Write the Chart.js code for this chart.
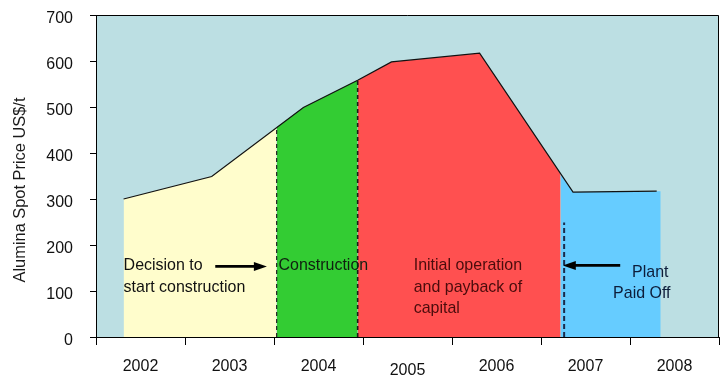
<!DOCTYPE html>
<html><head><meta charset="utf-8">
<script src="https://cdn.jsdelivr.net/npm/chart.js@4/dist/chart.umd.min.js"></script>
<style>html,body{margin:0;padding:0;background:#fff;}canvas{display:block;}</style>
</head><body>
<canvas id="c" width="722" height="392"></canvas>
<script>
// ---- data ----
const yearLabels = ['2002', '2003', '2004', '2005', '2006', '2007', '2008'];
const yTitle = 'Alumina Spot Price US$/t';

// spot price line (x in fractional years)
const priceYears  = [2001.81, 2002.80, 2003.83, 2004.44, 2004.82, 2005.81, 2006.86, 2007.80];
const priceValues = [300, 349, 499, 558, 598, 617, 315, 317];

// phase areas
const decisionYears      = [2001.81, 2002.80, 2003.53];
const decisionValues     = [300, 349, 456];
const constructionYears  = [2003.53, 2003.83, 2004.44];
const constructionValues = [456, 499, 558];
const paybackYears       = [2004.44, 2004.82, 2005.81, 2006.72];
const paybackValues      = [558, 598, 617, 355];
const paidOffYears       = [2006.72, 2006.86, 2007.80, 2007.845];
const paidOffValues      = [355, 315, 317, 317];

// dashed phase markers
const markerYears = [2003.53, 2004.44, 2006.76];
const markerTops  = [450, 558, 249];

// phase notes text
const decisionNote     = ['Decision to', 'start construction'];
const constructionNote = ['Construction'];
const paybackNote      = ['Initial operation', 'and payback of', 'capital'];
const paidOffNote      = ['Plant', 'Paid Off'];

const FONT = "'Liberation Sans', Arial, sans-serif";
const pts = (xs, ys) => xs.map((x, i) => ({x: x, y: ys[i]}));

function areaSet(xs, ys, color) {
  return {type: 'line', data: pts(xs, ys), fill: 'origin', backgroundColor: color,
          borderWidth: 0, borderColor: 'rgba(0,0,0,0)', pointRadius: 0, tension: 0, xAxisID: 'x', yAxisID: 'y'};
}
function markerSet(i, color, width, dash) {
  return {type: 'line', data: [{x: markerYears[i], y: 0}, {x: markerYears[i], y: markerTops[i]}],
          borderColor: color, borderWidth: width, borderDash: dash, pointRadius: 0, fill: false,
          xAxisID: 'x', yAxisID: 'y'};
}

const datasets = [
  markerSet(0, '#222222', 1.2, [4, 3]),
  markerSet(1, '#1a1a1a', 1.6, [4, 3]),
  markerSet(2, '#1b2a4a', 2, [5, 3]),
  {type: 'line', data: pts(priceYears, priceValues), borderColor: '#111', borderWidth: 1.2,
   pointRadius: 0, fill: false, tension: 0, xAxisID: 'x', yAxisID: 'y'},
  areaSet(decisionYears, decisionValues, '#FFFDCC'),
  areaSet(constructionYears, constructionValues, '#33CC33'),
  areaSet(paybackYears, paybackValues, '#FF5050'),
  areaSet(paidOffYears, paidOffValues, '#66CCFF')
];

const bgPlugin = {
  id: 'plotBg',
  beforeDraw(chart) {
    const {ctx, chartArea: a} = chart;
    ctx.save();
    ctx.fillStyle = '#BCDFE3';
    ctx.fillRect(a.left, a.top, a.right - a.left, a.bottom - a.top);
    ctx.restore();
  },
  afterDatasetsDraw(chart) {
    const {ctx, chartArea: a} = chart;
    ctx.save();
    ctx.strokeStyle = '#000';
    ctx.lineWidth = 1;
    ctx.beginPath();
    ctx.moveTo(a.left, a.top + 0.5);
    ctx.lineTo(a.right - 0.5, a.top + 0.5);
    ctx.lineTo(a.right - 0.5, a.bottom);
    ctx.stroke();
    ctx.restore();
  }
};

function arrow(ctx, x1, y, x2) {
  const dir = Math.sign(x2 - x1);
  const head = 13, half = 4.5;
  ctx.beginPath();
  ctx.moveTo(x1, y);
  ctx.lineTo(x2 - dir * head + dir * 1, y);
  ctx.lineWidth = 2.6;
  ctx.strokeStyle = '#000';
  ctx.stroke();
  ctx.beginPath();
  ctx.moveTo(x2, y);
  ctx.lineTo(x2 - dir * head, y - half);
  ctx.lineTo(x2 - dir * head, y + half);
  ctx.closePath();
  ctx.fillStyle = '#000';
  ctx.fill();
}

const notesPlugin = {
  id: 'notes',
  afterDatasetsDraw(chart) {
    const {ctx} = chart;
    const xs = chart.scales.x, ys = chart.scales.y;
    const X = v => xs.getPixelForValue(v), Y = v => ys.getPixelForValue(v);
    ctx.save();
    ctx.font = '17px ' + FONT;
    ctx.textBaseline = 'alphabetic';
    ctx.textAlign = 'left';
    const lh = 21.5, sx = 0.94;
    function lines(arr, x, y, color, offsets) {
      ctx.fillStyle = color;
      arr.forEach((t, i) => {
        ctx.save();
        ctx.translate(X(x) + (offsets ? offsets[i] : 0), Y(y) + i * lh);
        ctx.scale(sx, 1);
        ctx.fillText(t, 0, 0);
        ctx.restore();
      });
    }
    lines(decisionNote, 2001.81, 145, '#111111');
    lines(constructionNote, 2003.55, 146, '#102010');
    lines(paybackNote, 2005.07, 145, '#4a0c0c');
    lines(paidOffNote, 2007.31, 131, '#0d1d3a', [19, 0]);
    arrow(ctx, X(2002.84), Y(153.5), X(2003.42));
    arrow(ctx, X(2007.39), Y(155.7), X(2006.745));
    ctx.restore();
  }
};

const yTitlePlugin = {
  id: 'yTitle',
  afterDraw(chart) {
    const {ctx} = chart;
    ctx.save();
    ctx.translate(25, 190);
    ctx.rotate(-Math.PI / 2);
    ctx.font = '16.4px ' + FONT;
    ctx.fillStyle = '#1a1a1a';
    ctx.textAlign = 'center';
    ctx.textBaseline = 'alphabetic';
    ctx.fillText(yTitle, 0, 0);
    ctx.restore();
  }
};

new Chart(document.getElementById('c'), {
  type: 'line',
  data: {datasets: datasets},
  options: {
    responsive: false,
    animation: false,
    devicePixelRatio: 1,
    layout: {padding: {top: 15, right: 3, left: 0, bottom: 0}},
    plugins: {legend: {display: false}, tooltip: {enabled: false}},
    scales: {
      x: {type: 'linear', min: 2001.5, max: 2008.5, display: false},
      years: {
        type: 'category', axis: 'x', position: 'bottom', labels: yearLabels, offset: true,
        grid: {offset: true, drawOnChartArea: false, drawTicks: true, tickLength: 8, color: '#000', lineWidth: 1},
        border: {display: true, color: '#000', width: 1},
        ticks: {
          color: '#111', autoSkip: false, maxRotation: 0, padding: 12,
          font: ctx => ({family: FONT, size: 16, lineHeight: ctx.index === 3 ? 1.7 : 1.2})
        },
        afterFit: s => { s.height = 55; s.paddingLeft = 0; s.paddingRight = 0; }
      },
      y: {
        min: 0, max: 700,
        ticks: {stepSize: 100, color: '#111', font: {family: FONT, size: 16}, padding: 17, labelOffset: 4},
        grid: {drawOnChartArea: false, drawTicks: true, tickLength: 6, color: '#000'},
        border: {display: true, color: '#000', width: 1},
        afterFit: s => { s.width = 96; s.paddingTop = 0; s.paddingBottom = 0; }
      }
    }
  },
  plugins: [bgPlugin, notesPlugin, yTitlePlugin]
});
</script>
</body></html>
